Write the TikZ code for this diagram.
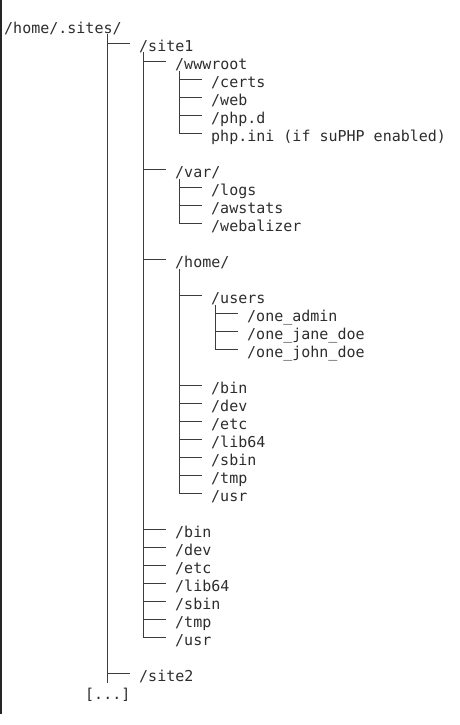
\documentclass[tikz,border=0pt]{standalone}
\usepackage{fontspec}
\setmonofont{DejaVu Sans Mono}
\usepackage{tikz}
\usetikzlibrary{positioning, calc}
\usepackage{xcolor}
\definecolor{termtext}{RGB}{45,45,45}
\definecolor{termline}{RGB}{60,60,60}

\tikzset{
    entry/.style={anchor=west, inner sep=0pt, text=termtext,
                  font=\ttfamily\fontsize{15}{18}\selectfont,
                  text height=16.4pt, text depth=0pt},
    tree/.style={termline, line width=0.9pt}
}

\begin{document}
\begin{tikzpicture}[x=1pt, y=-1pt]
        \useasboundingbox (0,0) rectangle (459,725);
        % Bord gauche
        \draw[black!85, line width=2.2pt] (1,0) -- (1,714);

        % --- Racine ---
        \node[entry] (root) at (4,25) {/home/.sites/};

        % --- Niveau 1 ---
        \node[entry] (site1) at (139,43.5) {/site1};
        \node[entry] (site2) at (139,673.5) {/site2};
        \node[entry] (more) at (85,691.5) {[...]};

        % --- Niveau 2 : contenu de site1 ---
        \node[entry] (wwwroot) at (175,61.5) {/wwwroot};
        \node[entry] (var) at (175,169.5) {/var/};
        \node[entry] (homedir) at (175,259.5) {/home/};
        \node[entry] (bin) at (175,529.5) {/bin};
        \node[entry] (dev) at (175,547.5) {/dev};
        \node[entry] (etc) at (175,565.5) {/etc};
        \node[entry] (lib) at (175,583.5) {/lib64};
        \node[entry] (sbin) at (175,601.5) {/sbin};
        \node[entry] (tmp) at (175,619.5) {/tmp};
        \node[entry] (usr) at (175,637.5) {/usr};

        % --- Niveau 3 ---
        % wwwroot
        \node[entry] (certs) at (211,79.5) {/certs};
        \node[entry] (web) at (211,97.5) {/web};
        \node[entry] (phpd) at (211,115.5) {/php.d};
        \node[entry] (phpini) at (211,133.5) {php.ini (if suPHP enabled)};
        % var
        \node[entry] (logs) at (211,187.5) {/logs};
        \node[entry] (awstats) at (211,205.5) {/awstats};
        \node[entry] (webalizer) at (211,223.5) {/webalizer};
        % home
        \node[entry] (users) at (211,295.5) {/users};
        \node[entry] (hbin) at (211,385.5) {/bin};
        \node[entry] (hdev) at (211,403.5) {/dev};
        \node[entry] (hetc) at (211,421.5) {/etc};
        \node[entry] (hlib) at (211,439.5) {/lib64};
        \node[entry] (hsbin) at (211,457.5) {/sbin};
        \node[entry] (htmp) at (211,475.5) {/tmp};
        \node[entry] (husr) at (211,493.5) {/usr};

        % --- Niveau 4 : users ---
        \node[entry] (oneadmin) at (247,313.5) {/one\_admin};
        \node[entry] (onejane) at (247,331.5) {/one\_jane\_doe};
        \node[entry] (onejohn) at (247,349.5) {/one\_john\_doe};

        % --- Troncs verticaux ---
        \draw[tree] ([xshift=-31.5pt,yshift=9pt]site1.west) -- ([xshift=-31.5pt,yshift=-9pt]site2.west);
        \draw[tree] ([xshift=-31.5pt,yshift=9pt]wwwroot.west) -- ([xshift=-31.5pt]usr.west);
        \draw[tree] ([xshift=-31.5pt,yshift=9pt]certs.west) -- ([xshift=-31.5pt]phpini.west);
        \draw[tree] ([xshift=-31.5pt,yshift=9pt]logs.west) -- ([xshift=-31.5pt]webalizer.west);
        \draw[tree] ([xshift=-31.5pt,yshift=27pt]users.west) -- ([xshift=-31.5pt]husr.west);
        \draw[tree] ([xshift=-31.5pt,yshift=9pt]oneadmin.west) -- ([xshift=-31.5pt]onejohn.west);

        % --- Branches horizontales ---
        \foreach \n in {site1, site2, wwwroot, var, homedir, bin, dev, etc, lib, sbin, tmp, usr,
                        certs, web, phpd, phpini, logs, awstats, webalizer,
                        users, hbin, hdev, hetc, hlib, hsbin, htmp, husr,
                        oneadmin, onejane, onejohn} {
            \draw[tree] ([xshift=-31.5pt]\n.west) -- ([xshift=-9pt]\n.west);
        }
    \end{tikzpicture}
\end{document}
